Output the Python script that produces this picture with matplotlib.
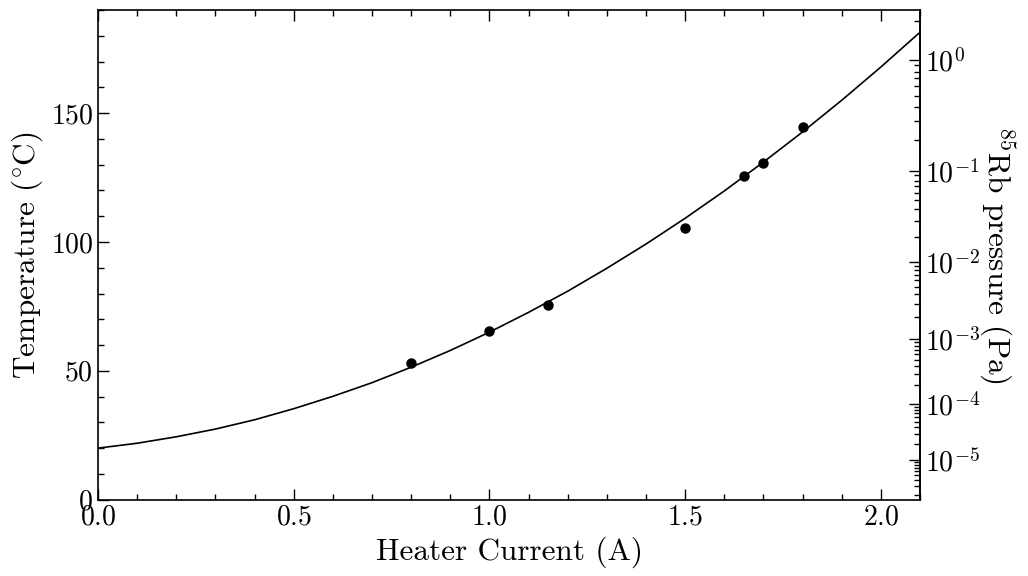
import numpy as np
import matplotlib
matplotlib.use("Agg")
import matplotlib.pyplot as plt
from matplotlib.ticker import FixedLocator, MultipleLocator, LogFormatterMathtext

plt.rcParams['font.family'] = 'serif'
plt.rcParams['font.serif'] = ['cmr10']
plt.rcParams['mathtext.fontset'] = 'cm'
plt.rcParams['axes.formatter.use_mathtext'] = True

# Measured points
current = [0.80, 1.00, 1.15, 1.50, 1.65, 1.70, 1.80]
temperature = [52.9, 65.5, 75.5, 105.3, 125.5, 130.6, 144.6]

# Fit curve
fit_current = [0.0, 0.1, 0.2, 0.3, 0.4, 0.5, 0.6, 0.7, 0.8, 0.9, 1.0,
               1.1, 1.2, 1.3, 1.4, 1.5, 1.6, 1.7, 1.8, 1.9, 2.0, 2.1]
fit_temperature = [20.0, 21.9, 24.4, 27.4, 31.0, 35.3, 40.1, 45.4, 51.4, 57.9, 65.0,
                   72.7, 80.9, 89.8, 99.2, 109.2, 119.8, 131.0, 142.7, 155.0, 167.9, 181.4]

# Vapour-pressure scale parameters (log10 P[Pa] = A - B / T[K])
vp_A = 9.291
vp_B = 4124.0
pressure_exponents = [0, -1, -2, -3, -4, -5]


def t2p(T):
    T = np.asarray(T, dtype=float)
    return 10 ** (vp_A - vp_B / (T + 273.15))


def p2t(P):
    P = np.clip(np.asarray(P, dtype=float), 1e-300, None)
    return vp_B / (vp_A - np.log10(P)) - 273.15


fig = plt.figure(figsize=(10.28, 5.76), dpi=100)
ax = fig.add_axes([0.0953, 0.1325, 0.7997, 0.8501])

ax.plot(fit_current, fit_temperature, color='black', lw=1.2)
ax.plot(current, temperature, 'o', color='black', ms=6.5)

ax.set_xlim(0, 2.1)
ax.set_ylim(0, 190)
ax.xaxis.set_major_locator(MultipleLocator(0.5))
ax.xaxis.set_minor_locator(MultipleLocator(0.1))
ax.yaxis.set_major_locator(MultipleLocator(50))
ax.yaxis.set_minor_locator(MultipleLocator(10))
ax.tick_params(which='both', direction='in', top=True, right=False, left=True, bottom=True,
               labelsize=20, width=1.0)
ax.tick_params(which='major', length=8)
ax.tick_params(which='minor', length=4)
for s in ax.spines.values():
    s.set_linewidth(1.2)

ax.set_xlabel('Heater Current (A)', fontsize=22.5, labelpad=4)
ax.set_ylabel(r'Temperature ($^{\circ}$C)', fontsize=22.5, labelpad=4)

sec = ax.secondary_yaxis('right', functions=(t2p, p2t))
sec.yaxis.set_major_locator(FixedLocator([10.0 ** e for e in pressure_exponents]))
minor = [m * 10.0 ** e for e in range(-7, 1) for m in range(2, 10)]
sec.yaxis.set_minor_locator(FixedLocator(minor))
sec.yaxis.set_major_formatter(LogFormatterMathtext())
sec.yaxis.set_minor_formatter(plt.NullFormatter())
sec.tick_params(which='both', direction='in', labelsize=20, width=1.0)
sec.tick_params(which='major', length=8)
sec.tick_params(which='minor', length=4)
sec.spines['right'].set_linewidth(1.2)
sec.set_ylabel(r'$^{85}$Rb pressure (Pa)', fontsize=22.5, rotation=270, labelpad=26)

fig.savefig('out.png', dpi=100)
